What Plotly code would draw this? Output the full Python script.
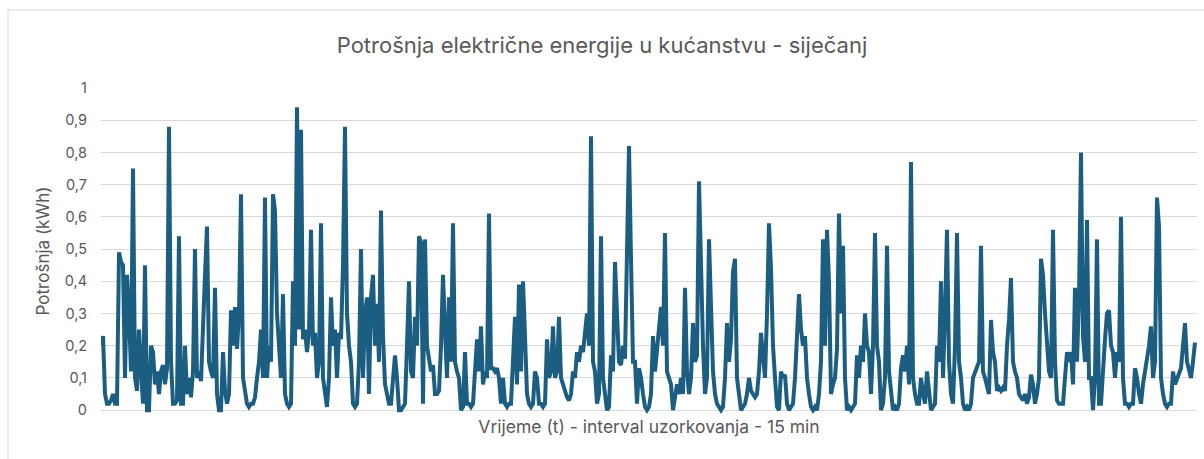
import plotly.graph_objects as go

# Potrošnja (kWh), očitano sa slike, redom po vremenu
dio_1 = [
    0.2, 0.23, 0.05, 0.02, 0.02, 0.03, 0.05, 0.02, 0.02, 0.49,
    0.46, 0.45, 0.1, 0.42, 0.3, 0.12, 0.75, 0.1, 0.06, 0.25,
    0.12, 0.02, 0.45, 0.0, 0.0, 0.2, 0.18, 0.08, 0.12, 0.05,
    0.12, 0.14, 0.08, 0.13, 0.88, 0.15, 0.02, 0.02, 0.03, 0.54,
    0.02, 0.02, 0.2, 0.05, 0.1, 0.04, 0.12, 0.5, 0.1, 0.12,
    0.09, 0.3, 0.42, 0.57, 0.15, 0.12, 0.1, 0.38, 0.05, 0.0,
    0.0, 0.18, 0.06, 0.02, 0.05, 0.31, 0.2, 0.32, 0.19, 0.3,
    0.67, 0.1, 0.05, 0.02, 0.01, 0.02, 0.02, 0.04, 0.1, 0.15,
    0.25, 0.1, 0.66, 0.1, 0.2, 0.15, 0.67, 0.62, 0.3, 0.2,
    0.1, 0.36, 0.05, 0.02, 0.01, 0.02, 0.4, 0.2, 0.94, 0.25,
    0.87, 0.22, 0.25, 0.18, 0.24, 0.56, 0.2, 0.24, 0.1, 0.15,
]
dio_2 = [
    0.58, 0.1, 0.05, 0.01, 0.1, 0.35, 0.2, 0.25, 0.1, 0.24,
    0.22, 0.45, 0.88, 0.3, 0.2, 0.15, 0.02, 0.01, 0.02, 0.15,
    0.5, 0.1, 0.3, 0.35, 0.05, 0.35, 0.42, 0.2, 0.33, 0.15,
    0.62, 0.23, 0.08, 0.05, 0.02, 0.02, 0.1, 0.17, 0.1, 0.0,
    0.0, 0.01, 0.02, 0.2, 0.4, 0.12, 0.1, 0.29, 0.2, 0.54,
    0.52, 0.02, 0.53, 0.2, 0.15, 0.12, 0.14, 0.05, 0.05, 0.06,
    0.2, 0.42, 0.25, 0.1, 0.35, 0.15, 0.58, 0.15, 0.12, 0.1,
    0.0, 0.01, 0.18, 0.02, 0.02, 0.01, 0.02, 0.1, 0.22, 0.12,
    0.26, 0.08, 0.12, 0.1, 0.61, 0.13, 0.13, 0.12, 0.13, 0.1,
    0.02, 0.1, 0.02, 0.01, 0.02, 0.02, 0.2, 0.29, 0.08, 0.39,
    0.12, 0.4, 0.23, 0.05, 0.02, 0.01, 0.02, 0.12, 0.1, 0.02,
]
dio_3 = [
    0.02, 0.01, 0.02, 0.22, 0.1, 0.12, 0.26, 0.1, 0.12, 0.29,
    0.1, 0.08, 0.05, 0.04, 0.03, 0.05, 0.12, 0.1, 0.18, 0.15,
    0.2, 0.18, 0.24, 0.3, 0.2, 0.85, 0.15, 0.12, 0.02, 0.05,
    0.54, 0.1, 0.05, 0.0, 0.01, 0.17, 0.12, 0.46, 0.3, 0.15,
    0.14, 0.2, 0.16, 0.55, 0.82, 0.47, 0.15, 0.15, 0.02, 0.13,
    0.1, 0.05, 0.01, 0.0, 0.01, 0.05, 0.23, 0.12, 0.2, 0.27,
    0.32, 0.2, 0.55, 0.12, 0.1, 0.08, 0.0, 0.05, 0.08, 0.05,
    0.1, 0.05, 0.38, 0.12, 0.05, 0.1, 0.27, 0.15, 0.17, 0.71,
    0.44, 0.2, 0.05, 0.1, 0.53, 0.3, 0.12, 0.05, 0.02, 0.01,
    0.0, 0.01, 0.1, 0.27, 0.15, 0.22, 0.43, 0.47, 0.1, 0.05,
    0.0, 0.01, 0.02, 0.05, 0.1, 0.06, 0.05, 0.04, 0.05, 0.12,
]
dio_4 = [
    0.24, 0.15, 0.1, 0.3, 0.58, 0.44, 0.2, 0.1, 0.01, 0.0,
    0.12, 0.1, 0.11, 0.02, 0.0, 0.01, 0.02, 0.1, 0.24, 0.36,
    0.25, 0.2, 0.23, 0.1, 0.05, 0.01, 0.0, 0.01, 0.0, 0.05,
    0.15, 0.53, 0.2, 0.56, 0.4, 0.05, 0.08, 0.1, 0.19, 0.61,
    0.3, 0.51, 0.1, 0.0, 0.01, 0.0, 0.01, 0.02, 0.17, 0.1,
    0.2, 0.15, 0.3, 0.2, 0.18, 0.05, 0.2, 0.55, 0.2, 0.15,
    0.0, 0.02, 0.1, 0.51, 0.12, 0.05, 0.0, 0.01, 0.0, 0.02,
    0.13, 0.17, 0.12, 0.2, 0.08, 0.77, 0.1, 0.05, 0.02, 0.02,
    0.1, 0.05, 0.02, 0.12, 0.05, 0.0, 0.01, 0.02, 0.2, 0.15,
    0.4, 0.1, 0.3, 0.56, 0.15, 0.05, 0.02, 0.2, 0.55, 0.15,
    0.1, 0.02, 0.0, 0.01, 0.0, 0.02, 0.1, 0.12, 0.13, 0.15,
]
dio_5 = [
    0.51, 0.12, 0.1, 0.08, 0.05, 0.28, 0.18, 0.15, 0.06, 0.07,
    0.06, 0.07, 0.06, 0.2, 0.28, 0.41, 0.15, 0.12, 0.1, 0.05,
    0.04, 0.03, 0.05, 0.02, 0.04, 0.11, 0.08, 0.02, 0.05, 0.1,
    0.47, 0.42, 0.3, 0.2, 0.12, 0.1, 0.56, 0.15, 0.03, 0.02,
    0.02, 0.02, 0.1, 0.18, 0.15, 0.18, 0.08, 0.38, 0.15, 0.35,
    0.8, 0.23, 0.15, 0.59, 0.1, 0.1, 0.0, 0.1, 0.53, 0.02,
    0.02, 0.15, 0.22, 0.3, 0.31, 0.2, 0.18, 0.1, 0.18, 0.15,
    0.6, 0.1, 0.02, 0.02, 0.01, 0.02, 0.02, 0.13, 0.1, 0.05,
    0.02, 0.08, 0.12, 0.15, 0.2, 0.26, 0.1, 0.15, 0.66, 0.57,
    0.1, 0.05, 0.02, 0.01, 0.02, 0.02, 0.12, 0.08, 0.1, 0.12,
    0.13, 0.2, 0.27, 0.15, 0.12, 0.1, 0.15, 0.21,
]

y_tickvals = [0, 0.1, 0.2, 0.3, 0.4, 0.5, 0.6, 0.7, 0.8, 0.9, 1]
y_ticktext = ["0", "0,1", "0,2", "0,3", "0,4", "0,5", "0,6", "0,7", "0,8", "0,9", "1"]

potrosnja = dio_1 + dio_2 + dio_3 + dio_4 + dio_5
vrijeme = list(range(len(potrosnja)))

W, H = 1204, 459
ML, MR, MT, MB = 101, 7, 88, 45
PW, PH = W - ML - MR, H - MT - MB

fig = go.Figure()
fig.add_trace(go.Scatter(
    x=vrijeme, y=potrosnja, mode="lines",
    line=dict(color="#1C5E82", width=4),
    hoverinfo="skip", showlegend=False,
))

GRAY = "#595959"
fig.update_layout(
    width=W, height=H,
    margin=dict(l=ML, r=MR, t=MT, b=MB),
    paper_bgcolor="white", plot_bgcolor="white",
    font=dict(family="Inter, Lato, sans-serif", color=GRAY),
    title=dict(
        text="Potrošnja električne energije u kućanstvu - siječanj",
        x=0.5, xanchor="center", y=1 - 45 / H, yanchor="middle",
        font=dict(size=22, color=GRAY),
    ),
    xaxis=dict(
        range=[0, PW / 2], showgrid=False, zeroline=False,
        showticklabels=False, ticks="", showline=False,
        title=dict(text="Vrijeme (t) - interval uzorkovanja - 15 min",
                   font=dict(size=17.5, color=GRAY), standoff=6),
    ),
    yaxis=dict(
        range=[-0.012, 1.0], tickvals=y_tickvals, ticktext=y_ticktext,
        showgrid=True, gridcolor="#D9D9D9", gridwidth=1,
        zeroline=False, showline=False, ticks="",
        tickfont=dict(size=14.5, color=GRAY), ticklabelstandoff=13,
        title=dict(text="Potrošnja (kWh)", font=dict(size=17, color=GRAY), standoff=10),
    ),
    shapes=[dict(
        type="rect", xref="paper", yref="paper",
        x0=(8 - ML) / PW, x1=(W + 10 - ML) / PW,
        y0=(H - MB - (H + 10)) / PH, y1=(H - MB - 10) / PH,
        line=dict(color="#D9D9D9", width=1), fillcolor="rgba(0,0,0,0)",
        layer="below",
    )],
)

fig.write_html(
    "out.html",
    config={"displayModeBar": False},
    post_script="document.body.style.margin='0';document.body.style.padding='0';",
)
